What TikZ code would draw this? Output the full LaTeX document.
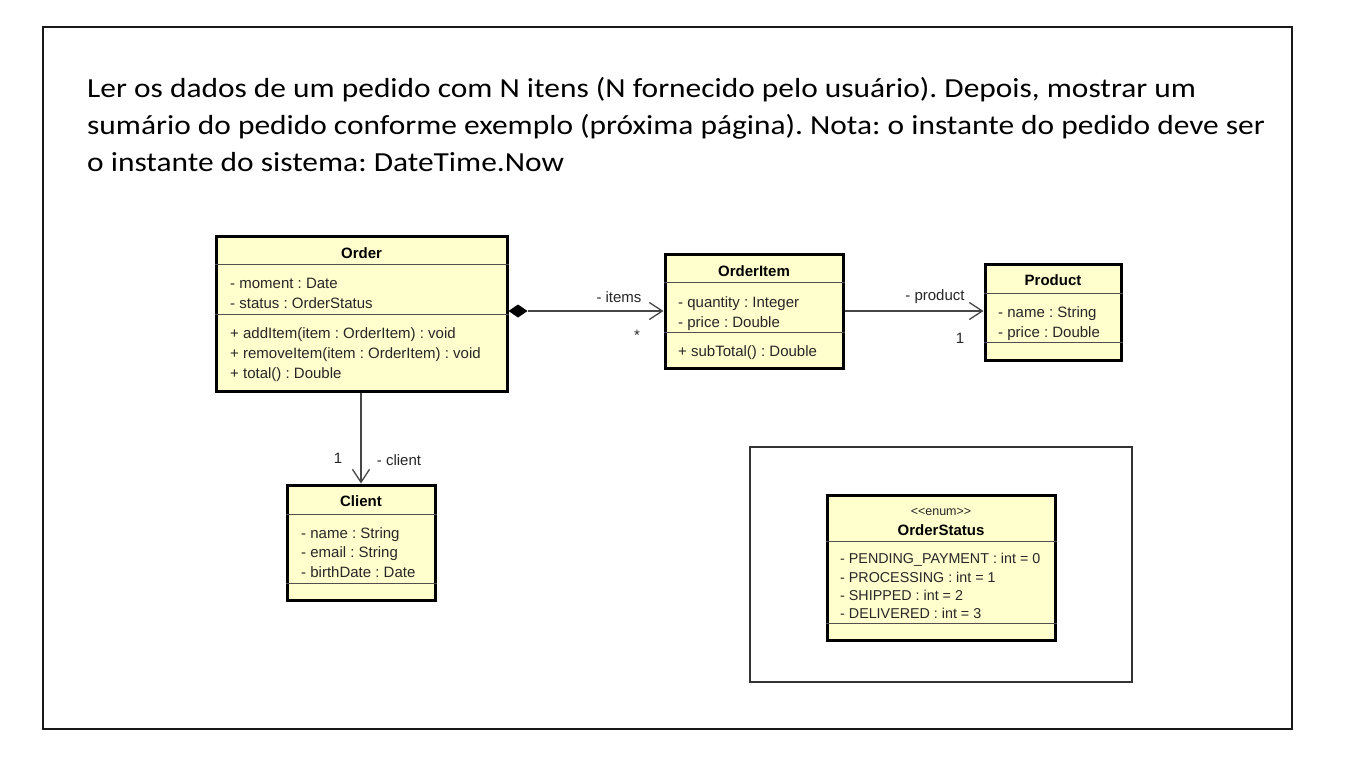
\documentclass[tikz,border=0pt]{standalone}
\usepackage{fontspec}
\usepackage{graphicx}
\setmainfont{Carlito}
\newfontfamily\umlfont{Liberation Sans}
\usetikzlibrary{arrows.meta}
\frenchspacing
\definecolor{umlfill}{RGB}{255,255,206}
\definecolor{linegray}{RGB}{70,70,70}
\definecolor{sepgray}{RGB}{80,80,80}
\newcommand{\stretchtext}[1]{\scalebox{1.14}[1]{#1}}
\tikzset{
  cls/.style={draw=black, line width=3pt, fill=umlfill, rectangle, inner sep=0pt},
  sepline/.style={draw=sepgray, line width=1.3pt},
  attr/.style={anchor=base west, inner sep=0pt, font=\umlfont\fontsize{15}{17}\selectfont, text=black!85},
  enumattr/.style={anchor=base west, inner sep=0pt, font=\umlfont\fontsize{14.3}{16}\selectfont, text=black!85},
  title/.style={anchor=base, inner sep=0pt, font=\umlfont\bfseries\fontsize{15}{17}\selectfont},
  lbl/.style={anchor=base, inner sep=0pt, font=\umlfont\fontsize{15}{17}\selectfont, text=black!85},
  toptext/.style={anchor=base west, inner sep=0pt, font=\fontsize{27.55}{32}\selectfont},
  assoc/.style={draw=linegray, line width=1.3pt},
  barb/.style={-{Straight Barb[length=13pt, width=17pt, line width=1.3pt]}},
}
\begin{document}
\begin{tikzpicture}[x=1pt, y=-1pt]
\useasboundingbox (0,0) rectangle (1353,763);
\fill[white] (0,0) rectangle (1353,763);
% outer frame
\draw[line width=2.4pt, draw=black!90] (43,27) rectangle (1292,729);
% top text
\node[toptext] (t1) at (87,97) {\stretchtext{Ler os dados de um pedido com N itens (N fornecido pelo usuário). Depois, mostrar um}};
\node[toptext] (t2) at (87,134) {\stretchtext{sumário do pedido conforme exemplo (próxima página). Nota: o instante do pedido deve ser}};
\node[toptext] (t3) at (87,171) {\stretchtext{o instante do sistema: DateTime.Now}};

% Order
\node[cls, minimum width=291pt, minimum height=155pt] (order) at (361.5,313.5) {};
\draw[sepline] ([yshift=-30pt]order.north west) -- ([yshift=-30pt]order.north east);
\draw[sepline] ([yshift=-80pt]order.north west) -- ([yshift=-80pt]order.north east);
\node[title] (ordert) at (361.5,258) {Order};
\node[attr] (o1) at (230,288) {- moment : Date};
\node[attr] (o2) at (230,308) {- status : OrderStatus};
\node[attr] (o3) at (230,338) {+ addItem(item : OrderItem) : void};
\node[attr] (o4) at (230,358) {+ removeItem(item : OrderItem) : void};
\node[attr] (o5) at (230,378) {+ total() : Double};

% OrderItem
\node[cls, minimum width=178pt, minimum height=114pt] (orderitem) at (754,311) {};
\draw[sepline] ([yshift=-30pt]orderitem.north west) -- ([yshift=-30pt]orderitem.north east);
\draw[sepline] ([yshift=-80pt]orderitem.north west) -- ([yshift=-80pt]orderitem.north east);
\node[title] (orderitemt) at (754,276) {OrderItem};
\node[attr] (oi1) at (678,307) {- quantity : Integer};
\node[attr] (oi2) at (678,327) {- price : Double};
\node[attr] (oi3) at (678,356) {+ subTotal() : Double};

% Product
\node[cls, minimum width=136pt, minimum height=96pt] (product) at (1053,312) {};
\draw[sepline] ([yshift=-31pt]product.north west) -- ([yshift=-31pt]product.north east);
\draw[sepline] ([yshift=-80pt]product.north west) -- ([yshift=-80pt]product.north east);
\node[title] (productt) at (1053,285) {Product};
\node[attr] (p1) at (998,317) {- name : String};
\node[attr] (p2) at (998,337) {- price : Double};

% Client
\node[cls, minimum width=148pt, minimum height=115pt] (client) at (361,542.5) {};
\draw[sepline] ([yshift=-31pt]client.north west) -- ([yshift=-31pt]client.north east);
\draw[sepline] ([yshift=-100pt]client.north west) -- ([yshift=-100pt]client.north east);
\node[title] (clientt) at (361,506) {Client};
\node[attr] (c1) at (301,538) {- name : String};
\node[attr] (c2) at (301,557) {- email : String};
\node[attr] (c3) at (301,577) {- birthDate : Date};

% enum frame
\node[draw=black!80, line width=1.3pt, minimum width=382pt, minimum height=235pt, inner sep=0pt] (enumframe) at (941,564.5) {};
% OrderStatus
\node[cls, minimum width=228pt, minimum height=145pt] (status) at (941,567.5) {};
\draw[sepline] ([yshift=-48pt]status.north west) -- ([yshift=-48pt]status.north east);
\draw[sepline] ([yshift=-130pt]status.north west) -- ([yshift=-130pt]status.north east);
\node[anchor=base, inner sep=0pt, font=\umlfont\fontsize{12.5}{14}\selectfont, text=black!85] (stereo) at (941,515) {<{}<enum>{}>};
\node[title] (statust) at (941,535) {OrderStatus};
\node[enumattr] (s1) at (840,563) {- PENDING\_PAYMENT : int = 0};
\node[enumattr] (s2) at (840,582) {- PROCESSING : int = 1};
\node[enumattr] (s3) at (840,600) {- SHIPPED : int = 2};
\node[enumattr] (s4) at (840,618) {- DELIVERED : int = 3};

% connectors
\coordinate (dstart) at (order.east |- orderitem.west);
\coordinate (dend) at ([xshift=19pt]dstart);
\fill[black] (dstart) -- ++(9.5,-6.5) -- (dend) -- ++(-9.5,6.5) -- cycle;
\draw[assoc, barb] (dend) -- (orderitem.west);
\node[lbl] (itemsl) at (619,302) {- items};
\node[lbl] (itemsm) at (637,340) {*};
\draw[assoc, barb] (orderitem.east) -- (orderitem.east -| product.west);
\node[lbl] (productl) at (935,300) {- product};
\node[lbl] (productm) at (960,343) {1};
\draw[assoc, barb] (order.south -| client.north) -- (client.north);
\node[lbl] (clientm) at (338,463) {1};
\node[lbl] (clientl) at (399,465) {- client};
\end{tikzpicture}
\end{document}
